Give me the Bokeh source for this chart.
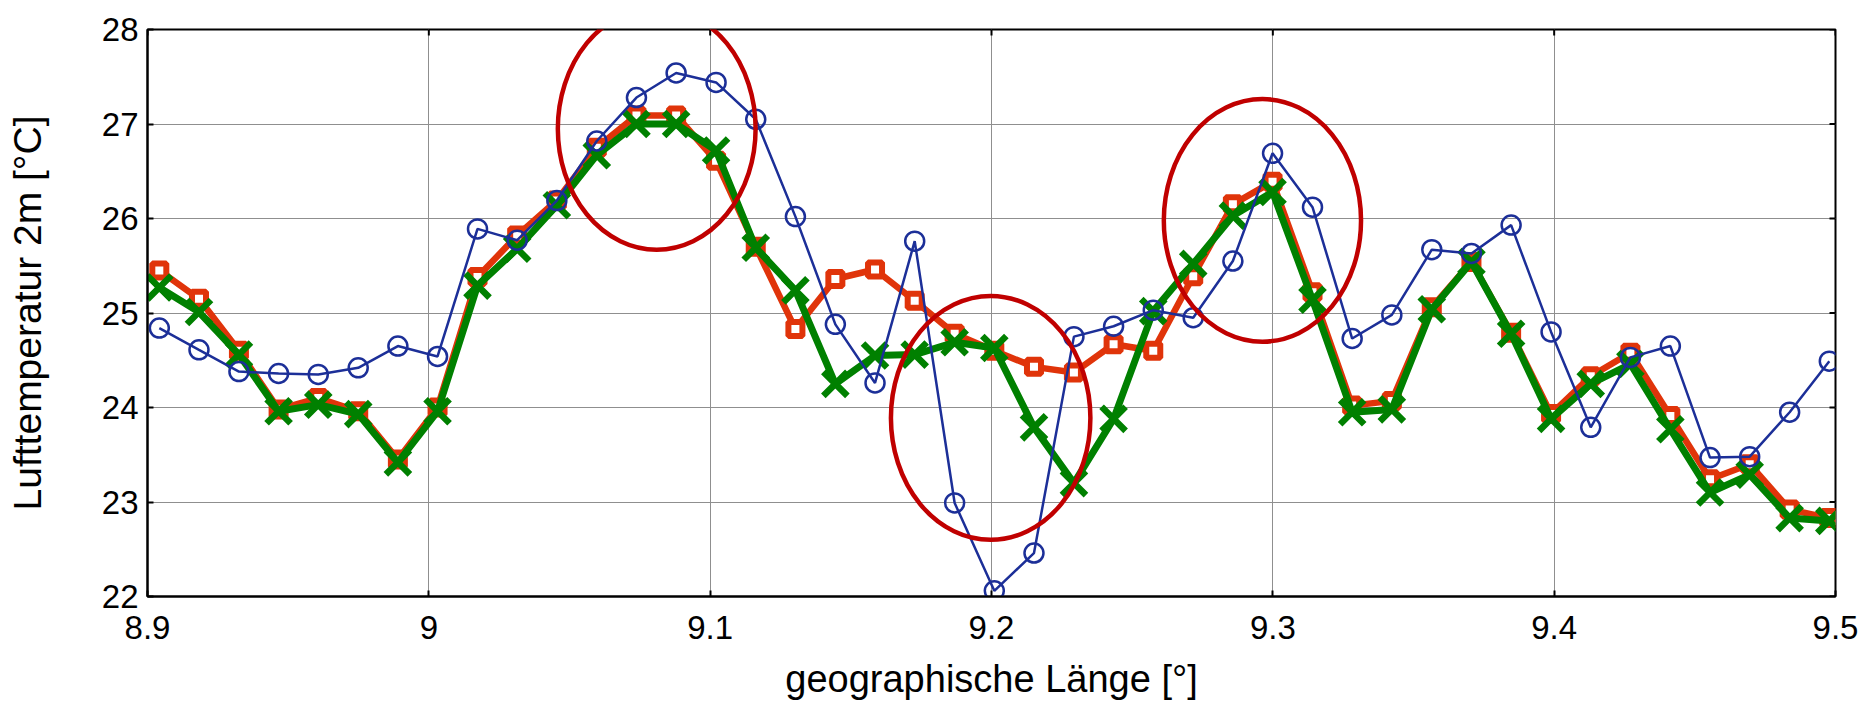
from bokeh.plotting import figure
from bokeh.models import Range1d, FixedTicker
from bokeh.embed import file_html
from bokeh.resources import INLINE

# ---- data ----
lon = [8.9042, 8.9183, 8.9325, 8.9466, 8.9607, 8.9749, 8.9890, 9.0031, 9.0173, 9.0314,
       9.0455, 9.0597, 9.0738, 9.0879, 9.1021, 9.1162, 9.1303, 9.1445, 9.1586, 9.1727,
       9.1869, 9.2010, 9.2151, 9.2293, 9.2434, 9.2575, 9.2717, 9.2858, 9.2999, 9.3141,
       9.3282, 9.3423, 9.3565, 9.3706, 9.3847, 9.3989, 9.4130, 9.4271, 9.4413, 9.4554,
       9.4695, 9.4837, 9.4978]

t_blue = [24.84, 24.61, 24.38, 24.36, 24.35, 24.42, 24.65, 24.54, 25.89, 25.77,
          26.19, 26.82, 27.28, 27.54, 27.44, 27.05, 26.02, 24.88, 24.26, 25.76,
          22.99, 22.06, 22.46, 24.75, 24.86, 25.03, 24.95, 25.55, 26.69, 26.12,
          24.73, 24.98, 25.67, 25.63, 25.93, 24.80, 23.79, 24.53, 24.65, 23.47,
          23.48, 23.95, 24.49]

t_red = [25.45, 25.15, 24.60, 23.98, 24.10, 23.96, 23.45, 24.00, 25.38, 25.82,
         26.19, 26.75, 27.09, 27.09, 26.61, 25.70, 24.83, 25.36, 25.46, 25.13,
         24.78, 24.60, 24.43, 24.37, 24.67, 24.60, 25.39, 26.15, 26.39, 25.22,
         24.02, 24.07, 25.06, 25.54, 24.79, 23.93, 24.33, 24.58, 23.91, 23.24,
         23.40, 22.92, 22.83]

t_green = [25.27, 25.01, 24.56, 23.96, 24.03, 23.93, 23.42, 23.96, 25.29, 25.68,
           26.14, 26.67, 27.00, 27.00, 26.72, 25.69, 25.24, 24.25, 24.55, 24.56,
           24.69, 24.63, 23.79, 23.20, 23.88, 25.02, 25.52, 26.03, 26.28, 25.14,
           23.95, 23.98, 25.04, 25.54, 24.78, 23.88, 24.25, 24.46, 23.77, 23.10,
           23.29, 22.83, 22.80]

x_ticks = [8.9, 9.0, 9.1, 9.2, 9.3, 9.4, 9.5]
x_tick_labels = ["8.9", "9", "9.1", "9.2", "9.3", "9.4", "9.5"]
y_ticks = [22, 23, 24, 25, 26, 27, 28]
y_tick_labels = ["22", "23", "24", "25", "26", "27", "28"]

# highlighted regions (ellipses)
ell_x = [9.081, 9.1997, 9.2963]
ell_y = [26.95, 23.89, 25.98]
ell_w = [0.0703, 0.0709, 0.0701]
ell_h = [2.56, 2.58, 2.57]

BLUE = "#1c2f98"
RED = "#e0340a"
GREEN = "#008000"
ELL = "#c00000"
FONT = "Liberation Sans"

X0, X1, Y0, Y1 = 8.9, 9.5, 22, 28
W, H = 1862, 702
ML, MR, MT, MB = 147, 27, 29, 106

p = figure(width=W, height=H,
           x_range=Range1d(X0, X1), y_range=Range1d(Y0, Y1),
           output_backend="svg", toolbar_location=None,
           min_border_left=ML, min_border_right=MR,
           min_border_top=MT, min_border_bottom=MB,
           x_axis_label="geographische Länge [°]",
           y_axis_label="Lufttemperatur 2m [°C]")
p.background_fill_color = "white"
p.border_fill_color = "white"
p.outline_line_color = "black"
p.outline_line_width = 2

p.xaxis.ticker = FixedTicker(ticks=x_ticks)
p.yaxis.ticker = FixedTicker(ticks=y_ticks)
p.xaxis.major_label_overrides = dict(zip(x_ticks, x_tick_labels))
p.yaxis.major_label_overrides = dict(zip(y_ticks, y_tick_labels))

for ax in [p.xaxis[0], p.yaxis[0]]:
    ax.axis_line_width = 2
    ax.axis_line_color = "black"
    ax.major_tick_in = 6
    ax.major_tick_out = 0
    ax.major_tick_line_width = 2
    ax.minor_tick_line_color = None
    ax.major_label_text_font = FONT
    ax.major_label_text_font_size = "33px"
    ax.major_label_text_color = "black"
    ax.axis_label_text_font = FONT
    ax.axis_label_text_font_style = "normal"
    ax.axis_label_text_color = "black"

p.xaxis.axis_label_text_font_size = "38px"
p.yaxis.axis_label_text_font_size = "39px"
p.xaxis.major_label_standoff = 19
p.xaxis.axis_label_standoff = 16
p.yaxis.major_label_standoff = 9
p.yaxis.axis_label_standoff = 50

p.xgrid.ticker = FixedTicker(ticks=x_ticks)
p.ygrid.ticker = FixedTicker(ticks=y_ticks)
for g in [p.xgrid[0], p.ygrid[0]]:
    g.grid_line_color = "#8f8f8f"
    g.grid_line_width = 1

# inward ticks on the top and right edges of the box (6 px long)
tick_px = 6
dx = (X1 - X0) * tick_px / (W - ML - MR)
dy = (Y1 - Y0) * tick_px / (H - MT - MB)
p.segment(x0=x_ticks, y0=[Y1] * len(x_ticks), x1=x_ticks, y1=[Y1 - dy] * len(x_ticks),
          line_color="black", line_width=2)
p.segment(x0=[X1] * len(y_ticks), y0=y_ticks, x1=[X1 - dx] * len(y_ticks), y1=y_ticks,
          line_color="black", line_width=2)

# red series (squares)
p.line(lon, t_red, line_color=RED, line_width=6.5, line_join="round")
p.scatter(lon, t_red, marker="square", size=14, line_color=RED, line_width=6,
          fill_color="white")
# green series (x)
p.line(lon, t_green, line_color=GREEN, line_width=7, line_join="round")
p.scatter(lon, t_green, marker="x", size=34, line_color=GREEN, line_width=6.5)
# blue series (circles)
p.line(lon, t_blue, line_color=BLUE, line_width=2.5)
p.scatter(lon, t_blue, marker="circle", size=19, line_color=BLUE, line_width=2.5,
          fill_color=None)

p.ellipse(x=ell_x, y=ell_y, width=ell_w, height=ell_h, fill_color=None,
          line_color=ELL, line_width=4.5)

open("out.html", "w").write(file_html(p, INLINE))
